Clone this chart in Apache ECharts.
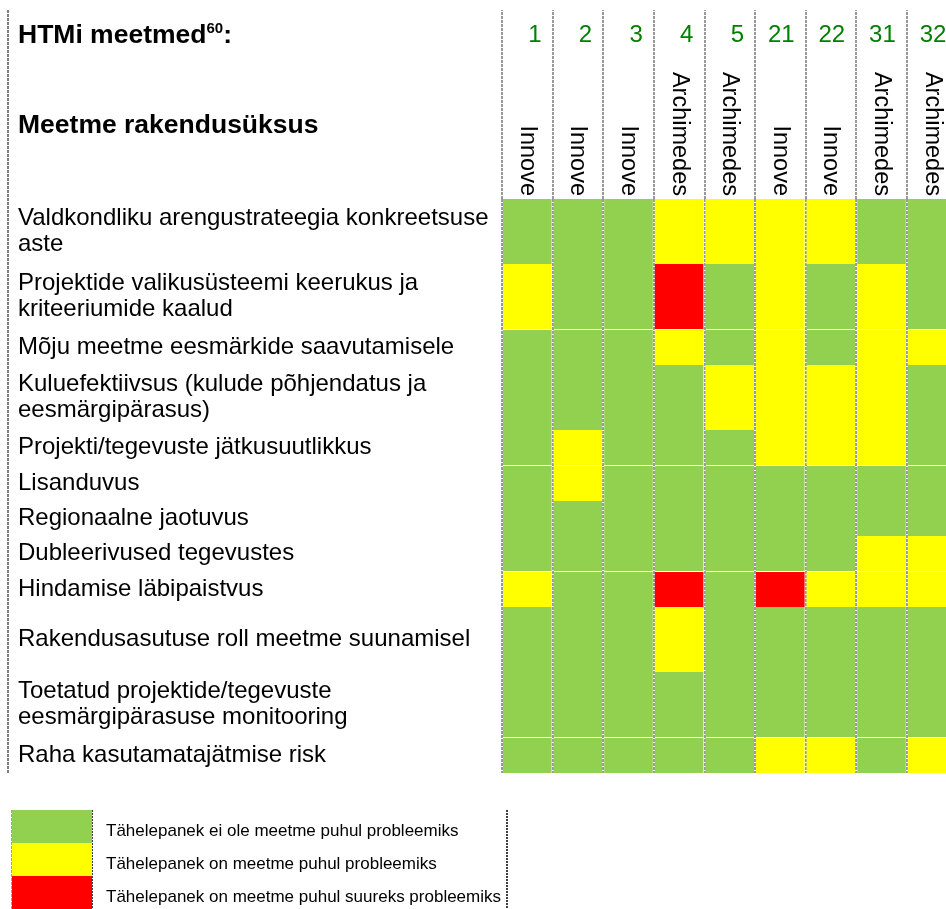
<!DOCTYPE html>
<html>
<head>
<meta charset="utf-8">
<script src="https://cdn.jsdelivr.net/npm/echarts@6/dist/echarts.min.js"></script>
<style>
  html, body { margin: 0; padding: 0; background: #fff; }
  #chart { width: 946px; height: 909px; }
</style>
</head>
<body>
<div id="chart"></div>
<script>
// ---------- data ----------
const criteria = [
  'Valdkondliku arengustrateegia konkreetsuse\naste',
  'Projektide valikusüsteemi keerukus ja\nkriteeriumide kaalud',
  'Mõju meetme eesmärkide saavutamisele',
  'Kuluefektiivsus (kulude põhjendatus ja\neesmärgipärasus)',
  'Projekti/tegevuste jätkusuutlikkus',
  'Lisanduvus',
  'Regionaalne jaotuvus',
  'Dubleerivused tegevustes',
  'Hindamise läbipaistvus',
  'Rakendusasutuse roll meetme suunamisel',
  'Toetatud projektide/tegevuste\neesmärgipärasuse monitooring',
  'Raha kasutamatajätmise risk'
];
const measures = ['1', '2', '3', '4', '5', '21', '22', '31', '32'];
const agencies = ['Innove', 'Innove', 'Innove', 'Archimedes', 'Archimedes', 'Innove', 'Innove', 'Archimedes', 'Archimedes'];
const statusNames = [
  'Tähelepanek ei ole meetme puhul probleemiks',
  'Tähelepanek on meetme puhul probleemiks',
  'Tähelepanek on meetme puhul suureks probleemiks'
];
// 0 = no problem, 1 = problem, 2 = big problem  (rows = criteria, cols = measures)
const status = [
  [0, 0, 0, 1, 1, 1, 1, 0, 0],
  [1, 0, 0, 2, 0, 1, 0, 1, 0],
  [0, 0, 0, 1, 0, 1, 0, 1, 1],
  [0, 0, 0, 0, 1, 1, 1, 1, 0],
  [0, 1, 0, 0, 0, 1, 1, 1, 0],
  [0, 1, 0, 0, 0, 0, 0, 0, 0],
  [0, 0, 0, 0, 0, 0, 0, 0, 0],
  [0, 0, 0, 0, 0, 0, 0, 1, 1],
  [1, 0, 0, 2, 0, 2, 1, 1, 1],
  [0, 0, 0, 1, 0, 0, 0, 0, 0],
  [0, 0, 0, 0, 0, 0, 0, 0, 0],
  [0, 0, 0, 0, 0, 1, 1, 0, 1]
];

// ---------- layout / style ----------
const statusColors = ['#92D050', '#FFFF00', '#FF0000'];
const ROW_H = [65, 65, 36, 65, 35, 36, 35, 35, 36, 65, 65, 36];   // row heights (layout)
const BREAK_ROWS = [2, 5, 8, 11];                                  // thin white gap above these rows
const ROW_TOP = [];
let acc = 0;
ROW_H.forEach(h => { ROW_TOP.push(acc); acc += h; });
const TOTAL_H = acc;
const rowCenters = ROW_TOP.map((t, i) => t + ROW_H[i] / 2);
const COL_W = 50.6;
const FONT = "'Liberation Sans', Arial, sans-serif";
const sepStyle = { color: '#808080', width: 1.6, type: [3, 1] };

function renderCell(params, api) {
  const c = api.value(0), r = api.value(1);
  const top = ROW_TOP[r], bot = top + ROW_H[r];
  const p0 = api.coord([c, top]);
  const p1 = api.coord([c + 1, bot]);
  const y0 = p0[1] + (BREAK_ROWS.indexOf(r) >= 0 ? 1 : 0);
  return {
    type: 'rect',
    shape: { x: p0[0] + 1, y: y0, width: p1[0] - p0[0] - 2, height: p1[1] - y0 },
    style: { fill: api.visual('color') }
  };
}

const series = statusNames.map((name, s) => {
  const data = [];
  status.forEach((row, r) => row.forEach((v, c) => { if (v === s) data.push([c, r, v]); }));
  return {
    type: 'custom',
    name: name,
    renderItem: renderCell,
    itemStyle: { color: statusColors[s] },
    encode: { x: 0, y: 1 },
    data: data,
    silent: true
  };
});

const chart = echarts.init(document.getElementById('chart'), null, { renderer: 'canvas' });
chart.setOption({
  animation: false,
  backgroundColor: '#fff',
  title: [
    {
      left: 18, top: 21, padding: 0,
      text: '{b|HTMi meetmed}{s|60}{b|:}',
      textStyle: {
        rich: {
          b: { fontFamily: FONT, fontWeight: 'bold', fontSize: 26.5, lineHeight: 30, color: '#000' },
          s: { fontFamily: FONT, fontWeight: 'bold', fontSize: 15, lineHeight: 8, color: '#000', verticalAlign: 'top' }
        }
      }
    },
    {
      left: 18, top: 111, padding: 0,
      text: 'Meetme rakendusüksus',
      textStyle: { fontFamily: FONT, fontWeight: 'bold', fontSize: 26.5, lineHeight: 30, color: '#000' }
    }
  ],
  legend: {
    orient: 'vertical',
    left: 12, top: 810, padding: 0,
    itemWidth: 80, itemHeight: 33, itemGap: 0,
    icon: 'rect',
    selectedMode: false,
    data: statusNames,
    formatter: name => '{t|' + name + '}',
    textStyle: {
      rich: {
        t: { fontFamily: FONT, fontSize: 17, color: '#000', lineHeight: 18, padding: [10, 0, 0, 9] }
      }
    }
  },
  grid: { left: 502, top: 199, width: COL_W * measures.length, height: TOTAL_H, outerBoundsMode: 'none', containLabel: false },
  xAxis: [
    {
      type: 'value', position: 'top', min: 0, max: measures.length, interval: 1,
      axisLine: { show: false },
      axisTick: { show: true, length: 189, lineStyle: sepStyle },
      splitLine: { show: true, lineStyle: sepStyle },
      axisLabel: {
        customValues: measures.map((m, i) => i + 1),
        formatter: v => measures[Math.round(v) - 1] || '',
        align: 'right', padding: [0, 11, 0, 0],
        margin: 152, color: '#008000', fontFamily: FONT, fontSize: 24
      }
    },
    {
      type: 'value', position: 'top', min: 0, max: measures.length, interval: 1,
      axisLine: { show: false }, axisTick: { show: false }, splitLine: { show: false },
      axisLabel: {
        customValues: measures.map((m, i) => i + 0.5),
        formatter: v => agencies[Math.floor(v)] || '',
        rotate: 90, margin: 3, color: '#000', fontFamily: FONT, fontSize: 23.5
      }
    }
  ],
  yAxis: {
    type: 'value', inverse: true, min: 0, max: TOTAL_H,
    axisLine: { show: false }, axisTick: { show: false }, splitLine: { show: false },
    axisLabel: {
      customValues: rowCenters,
      formatter: v => {
        let best = 0, d = Infinity;
        rowCenters.forEach((c, i) => { if (Math.abs(c - v) < d) { d = Math.abs(c - v); best = i; } });
        return criteria[best];
      },
      align: 'left', margin: 484, color: '#000', fontFamily: FONT, fontSize: 24, lineHeight: 26.5
    }
  },
  graphic: [
    { type: 'line', shape: { x1: 8, y1: 10, x2: 8, y2: 773 }, style: { stroke: '#808080', lineWidth: 2, lineDash: [3, 1] }, silent: true },
    { type: 'line', shape: { x1: 12, y1: 810, x2: 12, y2: 909 }, style: { stroke: '#808080', lineWidth: 1.5, lineDash: [3, 1] }, silent: true },
    { type: 'line', shape: { x1: 92, y1: 810, x2: 92, y2: 909 }, style: { stroke: '#000', lineWidth: 1.5, lineDash: [2, 1] }, silent: true },
    { type: 'line', shape: { x1: 507, y1: 810, x2: 507, y2: 909 }, style: { stroke: '#000', lineWidth: 1.5, lineDash: [2, 1] }, silent: true }
  ],
  series: series
});
</script>
</body>
</html>
